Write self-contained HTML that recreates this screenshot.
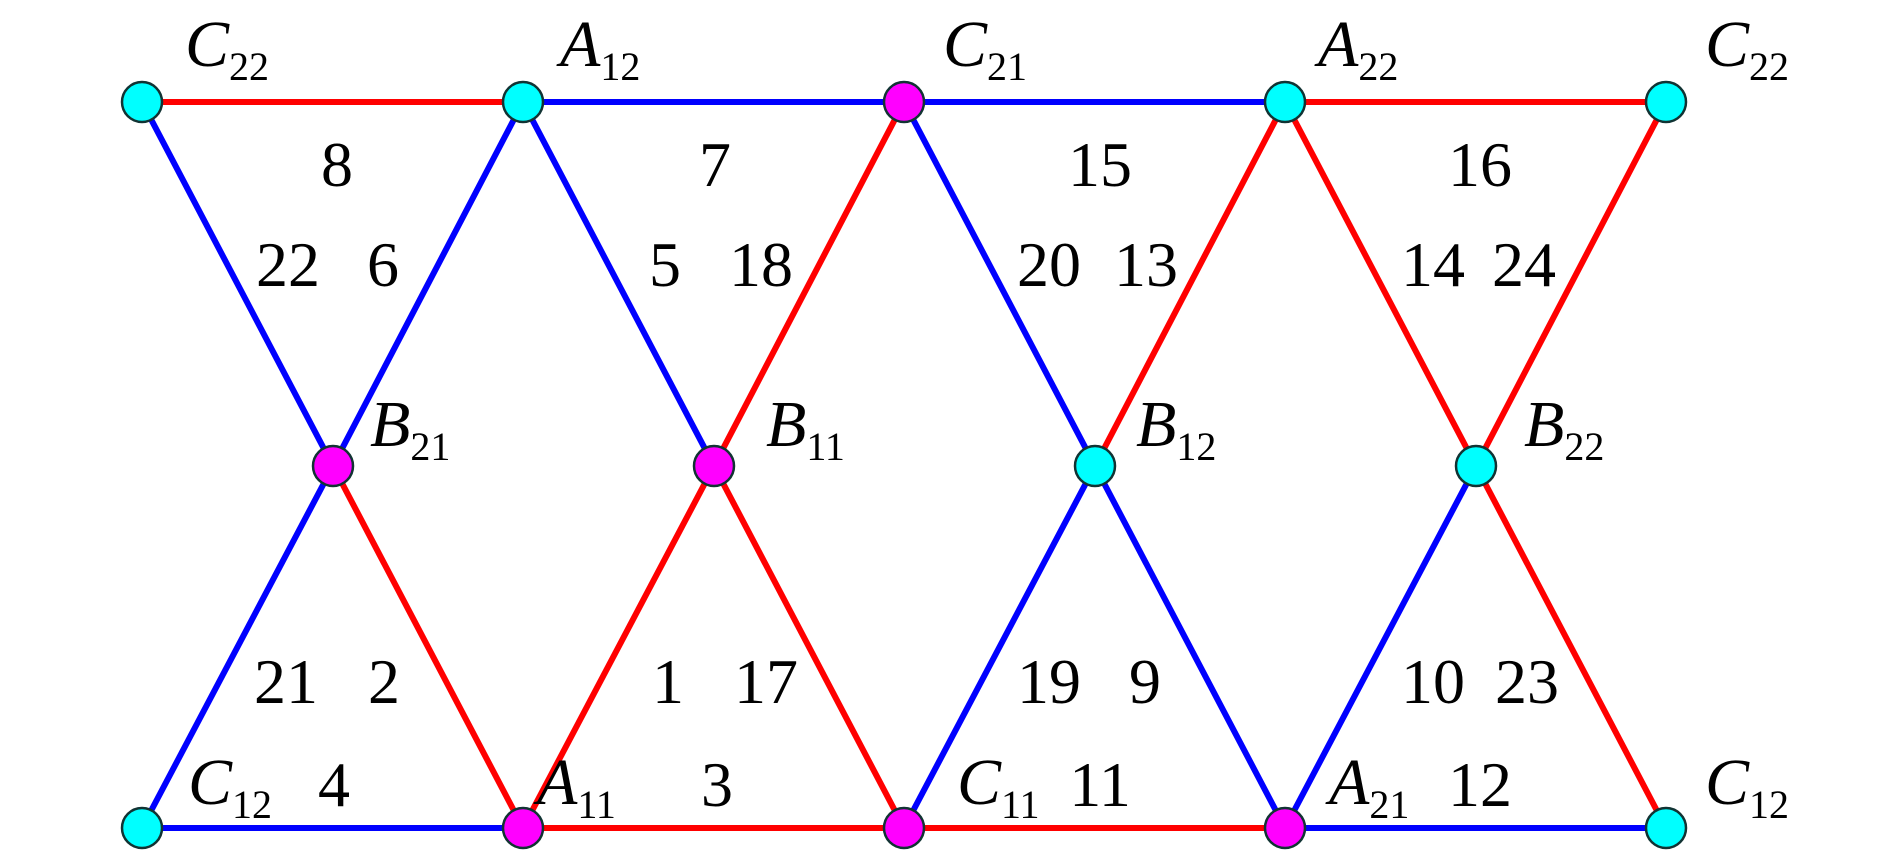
<!DOCTYPE html>
<html><head><style>html,body{margin:0;padding:0;background:#fff}svg{display:block}</style></head>
<body>
<svg width="1890" height="853" xmlns="http://www.w3.org/2000/svg" font-family="Liberation Serif, serif">
<g stroke-width="6" fill="none">
<line x1="142" y1="102" x2="523" y2="102" stroke="#f00"/>
<line x1="523" y1="102" x2="904" y2="102" stroke="#00f"/>
<line x1="904" y1="102" x2="1285" y2="102" stroke="#00f"/>
<line x1="1285" y1="102" x2="1666" y2="102" stroke="#f00"/>
<line x1="142" y1="828" x2="523" y2="828" stroke="#00f"/>
<line x1="523" y1="828" x2="904" y2="828" stroke="#f00"/>
<line x1="904" y1="828" x2="1285" y2="828" stroke="#f00"/>
<line x1="1285" y1="828" x2="1666" y2="828" stroke="#00f"/>
<line x1="142" y1="102" x2="333" y2="466" stroke="#00f"/>
<line x1="523" y1="102" x2="333" y2="466" stroke="#00f"/>
<line x1="523" y1="102" x2="714" y2="466" stroke="#00f"/>
<line x1="904" y1="102" x2="714" y2="466" stroke="#f00"/>
<line x1="904" y1="102" x2="1095" y2="466" stroke="#00f"/>
<line x1="1285" y1="102" x2="1095" y2="466" stroke="#f00"/>
<line x1="1285" y1="102" x2="1476" y2="466" stroke="#f00"/>
<line x1="1666" y1="102" x2="1476" y2="466" stroke="#f00"/>
<line x1="142" y1="828" x2="333" y2="466" stroke="#00f"/>
<line x1="523" y1="828" x2="333" y2="466" stroke="#f00"/>
<line x1="523" y1="828" x2="714" y2="466" stroke="#f00"/>
<line x1="904" y1="828" x2="714" y2="466" stroke="#f00"/>
<line x1="904" y1="828" x2="1095" y2="466" stroke="#00f"/>
<line x1="1285" y1="828" x2="1095" y2="466" stroke="#00f"/>
<line x1="1285" y1="828" x2="1476" y2="466" stroke="#00f"/>
<line x1="1666" y1="828" x2="1476" y2="466" stroke="#f00"/>
</g>
<g stroke="#133" stroke-width="2.5">
<circle cx="142" cy="102" r="20" fill="#0ff"/>
<circle cx="523" cy="102" r="20" fill="#0ff"/>
<circle cx="904" cy="102" r="20" fill="#f0f"/>
<circle cx="1285" cy="102" r="20" fill="#0ff"/>
<circle cx="1666" cy="102" r="20" fill="#0ff"/>
<circle cx="333" cy="466" r="20" fill="#f0f"/>
<circle cx="714" cy="466" r="20" fill="#f0f"/>
<circle cx="1095" cy="466" r="20" fill="#0ff"/>
<circle cx="1476" cy="466" r="20" fill="#0ff"/>
<circle cx="142" cy="828" r="20" fill="#0ff"/>
<circle cx="523" cy="828" r="20" fill="#f0f"/>
<circle cx="904" cy="828" r="20" fill="#f0f"/>
<circle cx="1285" cy="828" r="20" fill="#f0f"/>
<circle cx="1666" cy="828" r="20" fill="#0ff"/>
</g>
<g font-size="64" text-anchor="middle" fill="#000">
<text x="337" y="186">8</text><text x="715" y="186">7</text><text x="1100" y="186">15</text><text x="1480" y="186">16</text>
<text x="288" y="286">22</text><text x="383" y="286">6</text><text x="665" y="286">5</text><text x="761" y="286">18</text>
<text x="1049" y="286">20</text><text x="1146" y="286">13</text><text x="1433" y="286">14</text><text x="1524" y="286">24</text>
<text x="286" y="703">21</text><text x="384" y="703">2</text><text x="668" y="703">1</text><text x="766" y="703">17</text>
<text x="1049" y="703">19</text><text x="1145" y="703">9</text><text x="1433" y="703">10</text><text x="1527" y="703">23</text>
<text x="334" y="806">4</text><text x="717" y="806">3</text><text x="1100" y="806">11</text><text x="1480" y="806">12</text>
</g>
<g font-size="66" fill="#000">
<text x="185" y="66"><tspan font-style="italic">C</tspan><tspan font-size="40" dy="14">22</tspan></text>
<text x="560" y="66"><tspan font-style="italic">A</tspan><tspan font-size="40" dy="14">12</tspan></text>
<text x="943" y="66"><tspan font-style="italic">C</tspan><tspan font-size="40" dy="14">21</tspan></text>
<text x="1318" y="66"><tspan font-style="italic">A</tspan><tspan font-size="40" dy="14">22</tspan></text>
<text x="1705" y="66"><tspan font-style="italic">C</tspan><tspan font-size="40" dy="14">22</tspan></text>
<text x="370" y="446"><tspan font-style="italic">B</tspan><tspan font-size="40" dy="14">21</tspan></text>
<text x="766" y="446"><tspan font-style="italic">B</tspan><tspan font-size="40" dy="14">11</tspan></text>
<text x="1136" y="446"><tspan font-style="italic">B</tspan><tspan font-size="40" dy="14">12</tspan></text>
<text x="1524" y="446"><tspan font-style="italic">B</tspan><tspan font-size="40" dy="14">22</tspan></text>
<text x="188" y="804"><tspan font-style="italic">C</tspan><tspan font-size="40" dy="14">12</tspan></text>
<text x="537" y="804"><tspan font-style="italic">A</tspan><tspan font-size="40" dy="14">11</tspan></text>
<text x="957" y="804"><tspan font-style="italic">C</tspan><tspan font-size="40" dy="14">11</tspan></text>
<text x="1329" y="804"><tspan font-style="italic">A</tspan><tspan font-size="40" dy="14">21</tspan></text>
<text x="1705" y="804"><tspan font-style="italic">C</tspan><tspan font-size="40" dy="14">12</tspan></text>
</g>
</svg>
</body></html>
